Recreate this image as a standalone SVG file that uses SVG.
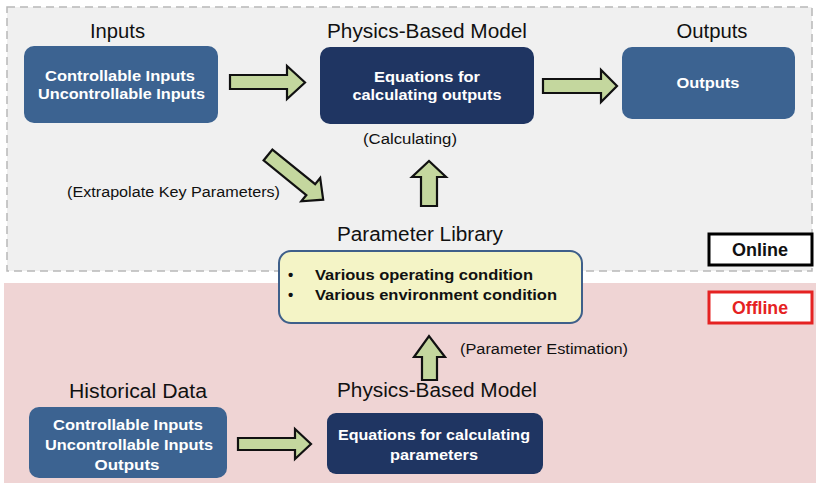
<svg xmlns="http://www.w3.org/2000/svg" width="816" height="483" viewBox="0 0 816 483">
<style>
.title{font-family:"Liberation Sans",Arial,sans-serif;font-size:20px;fill:#111;text-anchor:middle}
.btxt{font-family:"Liberation Sans",Arial,sans-serif;font-size:15px;font-weight:bold;fill:#fff;text-anchor:middle}
.lbl{font-family:"Liberation Sans",Arial,sans-serif;font-size:15.5px;fill:#111;text-anchor:middle}
.blue{fill:#3c6391}
.navy{fill:#1f3562}
.arr{fill:#c4d79e;stroke:#111;stroke-width:2.2;stroke-linejoin:miter}
.lib{font-family:"Liberation Sans",Arial,sans-serif;font-size:15px;font-weight:bold;fill:#111}
.tag{font-family:"Liberation Sans",Arial,sans-serif;font-size:18px;font-weight:bold;text-anchor:middle}
</style>
<rect x="0" y="0" width="816" height="483" fill="#ffffff"/>
<g id="online-region">
<rect x="7" y="7" width="805" height="264" fill="#f0f0f0" stroke="#b8b8b8" stroke-width="1.5" stroke-dasharray="8,5"/>
</g>
<g id="offline-region">
<rect x="4" y="283" width="812" height="200" fill="#efd4d4"/>
</g>
<g id="inputs">
<text class="title" x="117.5" y="38" textLength="55" lengthAdjust="spacingAndGlyphs">Inputs</text>
<rect class="blue" x="24" y="46" width="194" height="77" rx="10"/>
<text class="btxt" x="120" y="81" textLength="150" lengthAdjust="spacingAndGlyphs">Controllable Inputs</text>
<text class="btxt" x="121.5" y="99" textLength="167" lengthAdjust="spacingAndGlyphs">Uncontrollable Inputs</text>
</g>
<g id="model-online">
<text class="title" x="427" y="38" textLength="200" lengthAdjust="spacingAndGlyphs">Physics-Based Model</text>
<rect class="navy" x="320" y="47" width="214" height="77" rx="10"/>
<text class="btxt" x="427" y="82" textLength="106" lengthAdjust="spacingAndGlyphs">Equations for</text>
<text class="btxt" x="427" y="100" textLength="149" lengthAdjust="spacingAndGlyphs">calculating outputs</text>
</g>
<g id="outputs">
<text class="title" x="712" y="38" textLength="71" lengthAdjust="spacingAndGlyphs">Outputs</text>
<rect class="blue" x="622" y="47" width="173" height="72" rx="10"/>
<text class="btxt" x="708" y="88" textLength="63" lengthAdjust="spacingAndGlyphs">Outputs</text>
</g>
<g id="param-library">
<text class="title" x="420" y="241" textLength="166" lengthAdjust="spacingAndGlyphs">Parameter Library</text>
<rect x="279" y="251" width="303" height="72" rx="12" fill="#f4f4c6" stroke="#3e5f8a" stroke-width="2"/>
<text class="lib" x="288" y="280">•</text>
<text class="lib" x="315" y="280" textLength="218" lengthAdjust="spacingAndGlyphs">Various operating condition</text>
<text class="lib" x="288" y="300">•</text>
<text class="lib" x="315" y="300" textLength="242" lengthAdjust="spacingAndGlyphs">Various environment condition</text>
</g>
<g id="online-tag">
<rect x="709" y="234" width="103" height="31" fill="#fff" stroke="#000" stroke-width="3"/>
<text class="tag" x="760" y="256" fill="#111" textLength="56" lengthAdjust="spacingAndGlyphs">Online</text>
</g>
<g id="offline-tag">
<rect x="709" y="292" width="103" height="31" fill="#fff" stroke="#e52222" stroke-width="3"/>
<text class="tag" x="760" y="314" fill="#e52222" textLength="56" lengthAdjust="spacingAndGlyphs">Offline</text>
</g>
<g id="historical">
<text class="title" x="138" y="398" textLength="138" lengthAdjust="spacingAndGlyphs">Historical Data</text>
<rect class="blue" x="29" y="407" width="198" height="71" rx="10"/>
<text class="btxt" x="128" y="430" textLength="150" lengthAdjust="spacingAndGlyphs">Controllable Inputs</text>
<text class="btxt" x="129" y="450" textLength="168" lengthAdjust="spacingAndGlyphs">Uncontrollable Inputs</text>
<text class="btxt" x="127" y="470" textLength="65" lengthAdjust="spacingAndGlyphs">Outputs</text>
</g>
<g id="model-offline">
<text class="title" x="437" y="397" textLength="200" lengthAdjust="spacingAndGlyphs">Physics-Based Model</text>
<rect class="navy" x="327" y="413" width="216" height="61" rx="9"/>
<text class="btxt" x="434" y="440" textLength="192" lengthAdjust="spacingAndGlyphs">Equations for calculating</text>
<text class="btxt" x="434" y="460" textLength="88" lengthAdjust="spacingAndGlyphs">parameters</text>
</g>
<g id="connectors">
<polygon class="arr" points="230,75 287,75 287,66 305,82.5 287,99 287,89 230,89"/>
<polygon class="arr" points="543,79 601,79 601,70 617,86 601,102 601,93 543,93"/>
<polygon class="arr" points="238,438 295,438 295,429 311,444 295,459 295,450 238,450"/>
<polygon class="arr" points="421,206 421,177 412,177 429,161 446,177 437,177 437,206"/>
<polygon class="arr" points="422,380 422,357 414,357 429,336 445,357 437,357 437,380"/>
<polygon class="arr" transform="translate(268,155) rotate(39)" points="0,-7 55,-7 55,-15 71,0 55,15 55,7 0,7"/>
<text class="lbl" x="410" y="144" textLength="94" lengthAdjust="spacingAndGlyphs">(Calculating)</text>
<text class="lbl" x="173.5" y="197" textLength="213" lengthAdjust="spacingAndGlyphs">(Extrapolate Key Parameters)</text>
<text class="lbl" x="544" y="354" textLength="168" lengthAdjust="spacingAndGlyphs">(Parameter Estimation)</text>
</g>
</svg>
